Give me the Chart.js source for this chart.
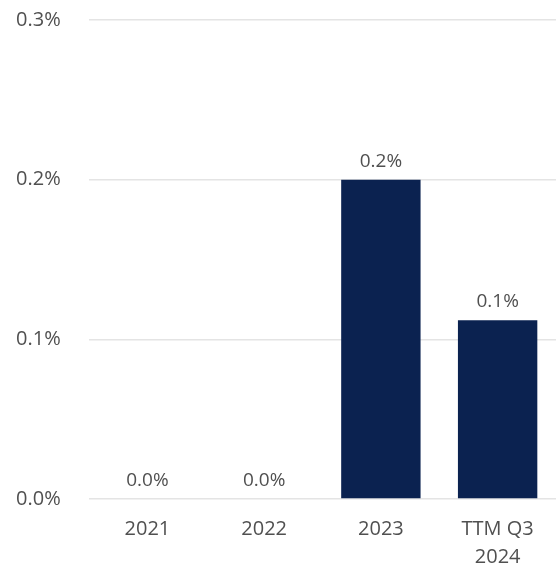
<!DOCTYPE html>
<html>
<head>
<meta charset="utf-8">
<script src="https://cdn.jsdelivr.net/npm/chart.js@4.4.1/dist/chart.umd.min.js"></script>
<style>
  html, body { margin: 0; padding: 0; background: #ffffff; }
  #wrap { width: 556px; height: 570px; position: relative; }
</style>
</head>
<body>
<div id="wrap"><canvas id="rateChart"></canvas></div>
<script>
// Chart data
var categories = ["2021", "2022", "2023", ["TTM Q3", "2024"]];
var rates = [0.0, 0.0, 0.2, 0.112];
var yTicks = [0, 0.1, 0.2, 0.3];

var textColor = "#505050";
var barColor = "#0b2250";
var fontFamily = "'Open Sans', sans-serif";

Chart.defaults.font.family = fontFamily;
Chart.defaults.color = textColor;

function pct(v) {
  return v.toFixed(1) + "%";
}

// Value labels above each bar
var valueLabels = {
  id: "valueLabels",
  afterDatasetsDraw: function (chart) {
    var ctx = chart.ctx;
    var meta = chart.getDatasetMeta(0);
    ctx.save();
    ctx.font = "19px " + fontFamily;
    ctx.fillStyle = textColor;
    ctx.textAlign = "center";
    ctx.textBaseline = "bottom";
    meta.data.forEach(function (bar, i) {
      ctx.fillText(pct(rates[i]), bar.x, bar.y - 9);
    });
    ctx.restore();
  },
};

var ctx = document.getElementById("rateChart");
new Chart(ctx, {
  type: "bar",
  data: {
    labels: categories,
    datasets: [
      {
        data: rates,
        backgroundColor: barColor,
        borderWidth: 0,
        categoryPercentage: 0.85,
        barPercentage: 0.8,
      },
    ],
  },
  options: {
    responsive: true,
    maintainAspectRatio: false,
    animation: false,
    layout: {
      padding: { top: 0, right: 0, bottom: 0, left: 16 },
    },
    plugins: {
      legend: { display: false },
      tooltip: { enabled: false },
    },
    scales: {
      x: {
        afterFit: function (scale) {
          scale.height = 71;
        },
        grid: { display: false, drawTicks: false },
        border: { display: false },
        ticks: {
          font: { size: 20, lineHeight: 1.4 },
          color: textColor,
          padding: 16,
          maxRotation: 0,
        },
      },
      y: {
        min: 0,
        max: 0.3,
        afterBuildTicks: function (scale) {
          scale.ticks = yTicks.map(function (v) { return { value: v }; });
        },
        afterFit: function (scale) {
          scale.width = 73;
        },
        grid: {
          color: "#e4e4e4",
          lineWidth: 1.5,
          drawTicks: false,
        },
        border: { display: false },
        ticks: {
          font: { size: 20 },
          color: textColor,
          padding: 8,
          crossAlign: "far",
          callback: function (v) { return pct(v); },
        },
      },
    },
  },
  plugins: [valueLabels],
});
</script>
</body>
</html>
